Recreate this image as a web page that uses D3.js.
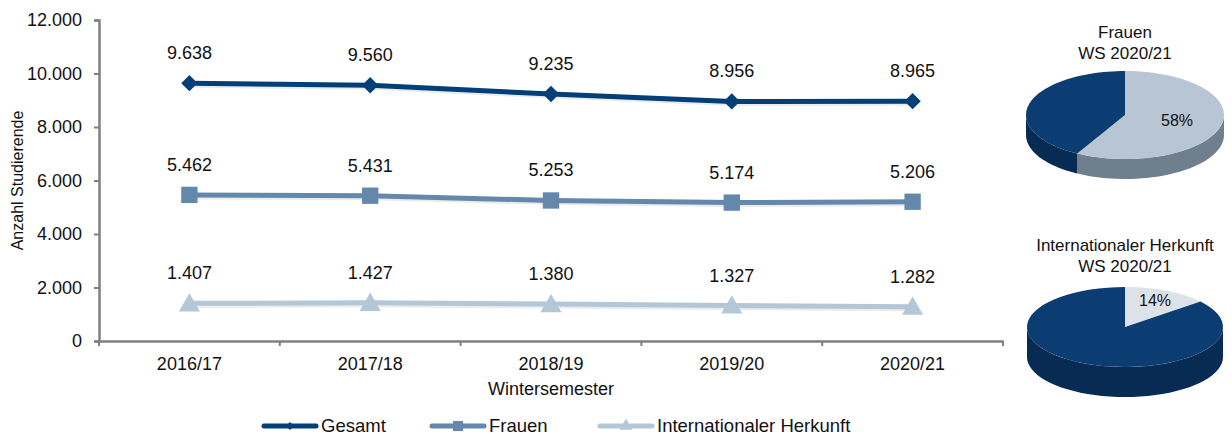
<!DOCTYPE html>
<html>
<head>
<meta charset="utf-8">
<script src="https://cdn.jsdelivr.net/npm/d3@7"></script>
<style>
  html, body { margin: 0; padding: 0; background: #fff; overflow: hidden; }
  svg { display: block; }
  text { font-family: "Liberation Sans", Arial, sans-serif; fill: #111; }
</style>
</head>
<body>
<div class="main"></div>
<script>
// Data
const semesters = ['2016/17', '2017/18', '2018/19', '2019/20', '2020/21'];
const gesamt = [9638, 9560, 9235, 8956, 8965];
const frauen = [5462, 5431, 5253, 5174, 5206];
const international = [1407, 1427, 1380, 1327, 1282];
const seriesNames = ['Gesamt', 'Frauen', 'Internationaler Herkunft'];
const yTicks = [0, 2000, 4000, 6000, 8000, 10000, 12000];
const frauenShare = [58, 42];        // Frauen, Männer
const internationalShare = [14, 86]; // International, andere

// Variables
const width = 1232,
      height = 437,
      margin = {top: 20, left: 99, bottom: 96, right: 229},
      innerWidth = width - margin.left - margin.right,
      innerHeight = height - margin.top - margin.bottom;

const colors = ['#003f78', '#6388ac', '#b4c7d7'];
const de = d3.formatLocale({decimal: ',', thousands: '.', grouping: [3], currency: ['', '€']});
const fmt = de.format(',');

// Canvas
const svg = d3.select('.main')
              .append('svg')
              .attr('width', width)
              .attr('height', height)
              .style('background', '#fff');

const g = svg.append('g')
             .attr('transform', `translate(${margin.left}, ${margin.top})`);

// Scales
const yScale = d3.scaleLinear()
                 .domain([0, 12000])
                 .range([innerHeight, 0]);

const xBand = d3.scaleBand()
                .domain(semesters)
                .range([0, innerWidth]);

const xScale = d3.scalePoint()
                 .domain(semesters)
                 .range([0, innerWidth])
                 .padding(0.5);

// Axes
const yAxis = g.append('g')
               .call(d3.axisLeft(yScale).tickValues(yTicks).tickFormat(d => fmt(d)).tickSize(5).tickPadding(12));
const xAxis = g.append('g')
               .attr('transform', `translate(0, ${innerHeight})`)
               .call(d3.axisBottom(xBand).tickSize(0).tickPadding(16));

// category boundary ticks
xAxis.selectAll('.sep')
     .data(d3.range(semesters.length + 1))
     .enter().append('line')
     .attr('x1', i => i * xBand.step())
     .attr('x2', i => i * xBand.step())
     .attr('y1', 0).attr('y2', 5)
     .attr('stroke', '#808080').attr('stroke-width', 2);

[yAxis, xAxis].forEach(a => {
  a.select('.domain').attr('stroke', '#808080').attr('stroke-width', 2.5);
  a.selectAll('.tick line').attr('stroke', '#808080').attr('stroke-width', 2);
  a.selectAll('.tick text').style('font-size', '18px').attr('fill', '#111');
});

// Axis titles
svg.append('text')
   .attr('transform', `translate(23, ${margin.top + innerHeight / 2}) rotate(-90)`)
   .attr('text-anchor', 'middle')
   .style('font-size', '16px')
   .text('Anzahl Studierende');

svg.append('text')
   .attr('x', margin.left + innerWidth / 2)
   .attr('y', 395)
   .attr('text-anchor', 'middle')
   .style('font-size', '18px')
   .text('Wintersemester');

// Lines
const seriesData = [gesamt, frauen, international];
const line = d3.line()
               .x((d, i) => xScale(semesters[i]))
               .y(d => yScale(d));

const symbols = [
  d3.symbol().type(d3.symbolDiamond2).size(170),
  d3.symbol().type(d3.symbolSquare2).size(340),
  d3.symbol().type(d3.symbolTriangle2).size(320)
];
const symbolsSmall = [
  d3.symbol().type(d3.symbolDiamond2).size(40),
  d3.symbol().type(d3.symbolSquare2).size(130),
  d3.symbol().type(d3.symbolTriangle2).size(120)
];

seriesData.forEach((vals, s) => {
  // soft shadow
  g.append('path')
   .datum(vals)
   .attr('d', line)
   .attr('transform', 'translate(1, 2)')
   .attr('fill', 'none')
   .attr('stroke', '#000')
   .attr('stroke-opacity', 0.08)
   .attr('stroke-width', 5);

  g.append('path')
   .datum(vals)
   .attr('d', line)
   .attr('fill', 'none')
   .attr('stroke', colors[s])
   .attr('stroke-width', 5);

  g.selectAll('.m' + s)
   .data(vals)
   .enter().append('path')
   .attr('d', symbols[s])
   .attr('transform', (d, i) => `translate(${xScale(semesters[i])}, ${yScale(d) + (s === 2 ? 2 : 0)})`)
   .attr('fill', colors[s]);

  g.selectAll('.l' + s)
   .data(vals)
   .enter().append('text')
   .attr('x', (d, i) => xScale(semesters[i]))
   .attr('y', d => yScale(d) - 24)
   .attr('text-anchor', 'middle')
   .style('font-size', '18px')
   .text(d => fmt(d));
});

// Legend
const legendX = [262, 430, 598];
const legend = svg.append('g').attr('transform', 'translate(0, 426)');
seriesNames.forEach((name, s) => {
  const lg = legend.append('g').attr('transform', `translate(${legendX[s]}, 0)`);
  lg.append('line')
    .attr('x1', 2).attr('x2', 54)
    .attr('stroke', colors[s])
    .attr('stroke-width', 5)
    .attr('stroke-linecap', 'round');
  lg.append('path')
    .attr('d', symbolsSmall[s])
    .attr('transform', 'translate(28, 0)')
    .attr('fill', colors[s]);
  lg.append('text')
    .attr('x', 59)
    .attr('y', 6)
    .style('font-size', '18.5px')
    .text(name);
});

// 3D pies
const pie = d3.pie().sort(null).value(d => d);

function pie3d(values, cx, cy, rx, ry, depth, topColors, sideColors, title, label, labelPos) {
  const pg = svg.append('g');
  const arcs = pie(values);
  const pt = (a, dy) => [cx + rx * Math.sin(a), cy - ry * Math.cos(a) + dy];

  // side walls, front half only
  arcs.forEach((a, i) => {
    const a0 = Math.max(a.startAngle, Math.PI / 2),
          a1 = Math.min(a.endAngle, Math.PI * 1.5);
    if (a1 <= a0) return;
    const steps = d3.range(0, 41).map(k => a0 + (a1 - a0) * k / 40);
    const top = steps.map(s => pt(s, 0));
    const bot = steps.slice().reverse().map(s => pt(s, depth));
    pg.append('path')
      .attr('d', d3.line()(top.concat(bot)) + 'Z')
      .attr('fill', sideColors[i]);
  });

  // top faces
  arcs.forEach((a, i) => {
    const steps = d3.range(0, 61).map(k => a.startAngle + (a.endAngle - a.startAngle) * k / 60);
    const pts = [[cx, cy]].concat(steps.map(s => pt(s, 0)));
    pg.append('path')
      .attr('d', d3.line()(pts) + 'Z')
      .attr('fill', topColors[i]);
  });

  pg.append('text')
    .attr('x', labelPos[0]).attr('y', labelPos[1])
    .attr('text-anchor', 'middle')
    .style('font-size', '16px')
    .text(label);

  title.forEach((t, k) => {
    pg.append('text')
      .attr('x', cx).attr('y', title.y + k * 21)
      .attr('text-anchor', 'middle')
      .style('font-size', '17px')
      .text(t);
  });
}

const titleF = ['Frauen', 'WS 2020/21']; titleF.y = 38;
const titleI = ['Internationaler Herkunft', 'WS 2020/21']; titleI.y = 251;

pie3d(frauenShare, 1125, 115, 99, 44, 20,
      ['#b8c5d3', '#0b3d73'], ['#6f7f8e', '#072b52'],
      titleF, '58%', [1177, 126]);

pie3d(internationalShare, 1125, 327, 98, 40, 30,
      ['#dde2e8', '#0b3d73'], ['#9aa5b0', '#072b52'],
      titleI, '14%', [1155, 306]);
</script>
</body>
</html>
